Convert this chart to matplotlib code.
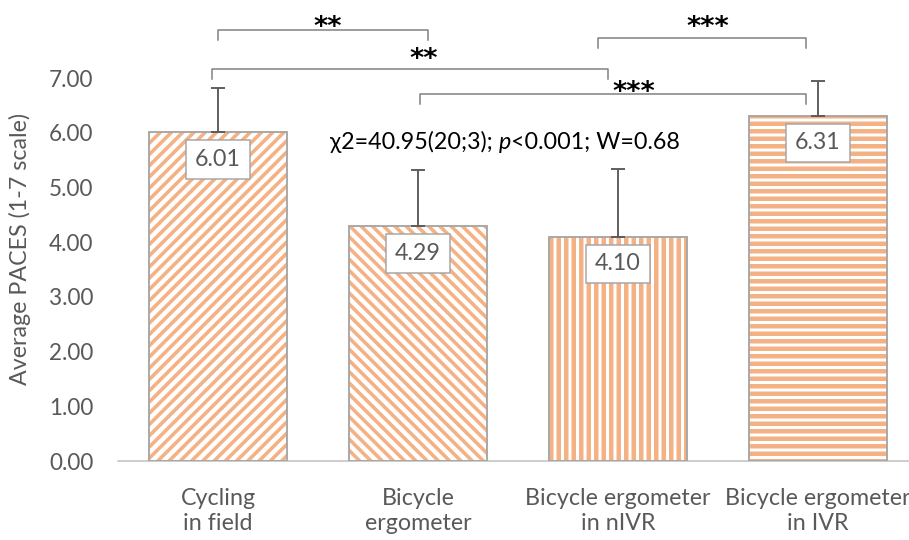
"""PACES enjoyment ratings for the four cycling conditions, with Friedman test
result and pairwise significance brackets."""

import matplotlib
matplotlib.use("Agg")
import matplotlib.pyplot as plt
import numpy as np

plt.rcParams["font.family"] = ["Lato", "DejaVu Sans"]

# ----------------------------------------------------------------------------
# Data
# ----------------------------------------------------------------------------
conditions = ["Cycling\nin field", "Bicycle\nergometer",
              "Bicycle ergometer\nin nIVR", "Bicycle ergometer\nin IVR"]
paces_mean = [6.01, 4.29, 4.10, 6.31]
paces_sd = [0.80, 1.03, 1.24, 0.64]
hatches = ["////", "\\\\\\\\", "|||", "---"]

y_ticks = [0, 1, 2, 3, 4, 5, 6, 7]
stats_text = ("χ2=40.95(20;3); ", "p", "<0.001; W=0.68")

# pairwise post-hoc comparisons:
# (left x, right x, bracket y, label x, label baseline y, label)
brackets = [
    (0.00, 1.05, 7.88, 0.55, 7.79, "**"),
    (-0.03, 1.95, 7.17, 1.03, 7.21, "**"),
    (1.90, 2.94, 7.73, 2.45, 7.79, "***"),
    (1.01, 2.94, 6.71, 2.08, 6.60, "***"),
]

# ----------------------------------------------------------------------------
# Style
# ----------------------------------------------------------------------------
ORANGE = "#F4B183"
EDGE = "#A6A6A6"
TEXT = "#595959"
FS = 12.4

DPI = 135
fig = plt.figure(figsize=(909 / DPI, 540 / DPI), dpi=DPI)
ax = fig.add_axes([118 / 909, 79 / 540, 800 / 909, 461 / 540])

x = np.arange(len(conditions))
width = 0.69

for xi, h, hatch in zip(x, paces_mean, hatches):
    lw = 1.9 if hatch[0] in "/\\" else 2.4
    with plt.rc_context({"hatch.linewidth": lw}):
        ax.bar(xi, h, width, color="white", edgecolor=ORANGE, hatch=hatch,
               linewidth=0, zorder=2)
# outline drawn separately so the border stays grey while the hatch is orange
ax.bar(x, paces_mean, width, color="none", edgecolor=EDGE, linewidth=1.0,
       zorder=3)

ax.errorbar(x, paces_mean, yerr=[np.zeros(len(x)), paces_sd], fmt="none",
            ecolor=TEXT, elinewidth=1.0, capsize=3.7, capthick=1.0, zorder=4)

for xi, h in zip(x, paces_mean):
    ax.annotate(f"{h:.2f}", (xi, h), xytext=(0, -14.5), textcoords="offset points",
                ha="center", va="center", fontsize=FS, color=TEXT, zorder=5,
                bbox=dict(boxstyle="square,pad=0.38", fc="white", ec=EDGE, lw=0.8))

# significance brackets
for x0, x1, yb, xs, ys, label in brackets:
    ax.plot([x0, x0, x1, x1], [yb - 0.18, yb, yb, yb - 0.18], color="#7F7F7F",
            lw=0.8, clip_on=False, zorder=3)
    ax.text(xs, ys, label, ha="center", va="baseline", fontsize=14.5,
            color="black", fontweight="bold", fontfamily=["DejaVu Sans"])

# Friedman test result, with an italic p
t1 = ax.text(0.56, 5.83, stats_text[0], ha="left", va="center", fontsize=FS,
             color="black")
t2 = ax.annotate(stats_text[1], xy=(1, 0), xycoords=t1, ha="left", va="bottom",
                 fontsize=FS, color="black", style="italic")
ax.annotate(stats_text[2], xy=(1, 0), xycoords=t2, ha="left", va="bottom",
            fontsize=FS, color="black")

ax.set_xlim(-0.5, 3.5)
ax.set_ylim(0, 8.426)
ax.set_yticks(y_ticks)
ax.set_yticklabels([f"{v:.2f}" for v in y_ticks])
ax.set_xticks(x)
ax.set_xticklabels(conditions, linespacing=1.22)
ax.tick_params(axis="y", length=0, pad=13, labelsize=12, labelcolor=TEXT)
ax.tick_params(axis="x", length=0, pad=14.5, labelsize=FS, labelcolor=TEXT)

for side in ("top", "right", "left"):
    ax.spines[side].set_visible(False)
ax.spines["bottom"].set_color("#BFBFBF")
ax.spines["bottom"].set_linewidth(0.8)

ax.set_ylabel("Average PACES (1-7 scale)", fontsize=FS, color=TEXT)
ax.yaxis.set_label_coords(-0.109, 0.46)

fig.savefig("out.png", dpi=DPI)
